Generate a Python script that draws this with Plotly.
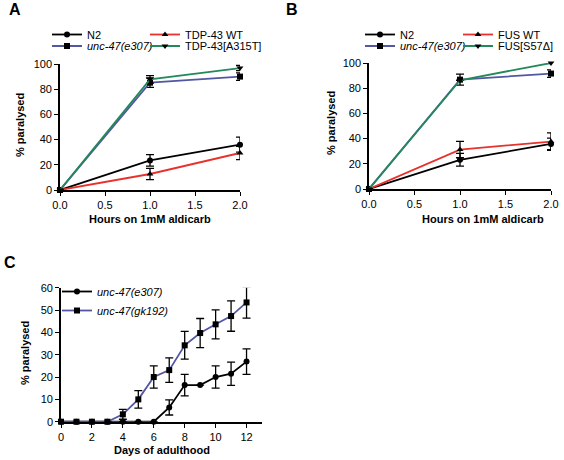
import plotly.graph_objects as go

W, H = 564, 460

# ---------------- data ----------------
hours = [0.0, 1.0, 2.0]

a_n2 = [0, 23.5, 36.0]
a_n2_err = [0, 4.6, 6.0]
a_unc = [0, 85.2, 90.0]
a_unc_err = [0, 3.7, 3.0]
a_tdp_wt = [0, 12.7, 29.4]
a_tdp_wt_err = [0, 4.4, 5.3]
a_tdp_mut = [0, 87.8, 96.8]
a_tdp_mut_err = [0, 3.0, 2.0]

b_n2 = [0, 23.2, 35.8]
b_n2_err = [0, 5.0, 4.5]
b_unc = [0, 86.8, 91.6]
b_unc_err = [0, 4.4, 3.0]
b_fus_wt = [0, 31.3, 37.6]
b_fus_wt_err = [0, 6.5, 7.0]
b_fus_mut = [0, 86.3, 100.0]
b_fus_mut_err = [0, 0, 0]

days = [0, 1, 2, 3, 4, 5, 6, 7, 8, 9, 10, 11, 12]
c_e307 = [0, 0, 0, 0, 0, 0, 0, 6.4, 16.4, 16.4, 20.0, 21.5, 26.9]
c_e307_err = [0, 0, 0, 0, 0, 0, 0, 3.4, 4.8, 0, 5.0, 5.2, 5.7]
c_gk192 = [0, 0, 0, 0, 3.3, 10.0, 20.0, 23.1, 34.2, 39.7, 43.6, 47.3, 53.4]
c_gk192_err = [0, 0, 0, 0, 2.2, 3.9, 5.0, 5.5, 6.2, 6.5, 6.5, 6.8, 7.0]

hour_ticks = [0.0, 0.5, 1.0, 1.5, 2.0]
pct_ticks = [0, 20, 40, 60, 80, 100]
day_ticks = [0, 2, 4, 6, 8, 10, 12]
c_pct_ticks = [0, 10, 20, 30, 40, 50, 60]

BLACK = "#000000"
BLUE = "#5357a3"
RED = "#e8312b"
GREEN = "#23885a"
FONT = "Liberation Sans, Arial, sans-serif"

fig = go.Figure()


def add(x, y, err, name, color, symbol, xa, ya, legend):
    fig.add_trace(go.Scatter(
        x=x, y=y, name=name, mode="lines+markers", showlegend=True,
        line=dict(color=color, width=1.8),
        marker=dict(color=BLACK, symbol=symbol, size=6),
        error_y=dict(type="data", array=err, visible=True, color=BLACK,
                     thickness=1.3, width=4),
        xaxis=xa, yaxis=ya, legend=legend, cliponaxis=False,
    ))


# Panel A
add(hours, a_n2, a_n2_err, "N2", BLACK, "circle", "x", "y", "legend")
add(hours, a_unc, a_unc_err, "<i>unc-47(e307)</i>", BLUE, "square", "x", "y", "legend2")
add(hours, a_tdp_wt, a_tdp_wt_err, "TDP-43 WT", RED, "triangle-up", "x", "y", "legend3")
add(hours, a_tdp_mut, a_tdp_mut_err, "TDP-43[A315T]", GREEN, "triangle-down", "x", "y", "legend4")

# Panel B
add(hours, b_n2, b_n2_err, "N2", BLACK, "circle", "x2", "y2", "legend5")
add(hours, b_unc, b_unc_err, "<i>unc-47(e307)</i>", BLUE, "square", "x2", "y2", "legend6")
add(hours, b_fus_wt, b_fus_wt_err, "FUS WT", RED, "triangle-up", "x2", "y2", "legend7")
add(hours, b_fus_mut, b_fus_mut_err, "FUS[S57Δ]", GREEN, "triangle-down", "x2", "y2", "legend8")

# Panel C
add(days, c_e307, c_e307_err, "<i>unc-47(e307)</i>", BLACK, "circle", "x3", "y3", "legend9")
add(days, c_gk192, c_gk192_err, "<i>unc-47(gk192)</i>", BLUE, "square", "x3", "y3", "legend9")


def px(v):
    return v / W


def py(v):
    return 1 - v / H


axis_common = dict(
    showline=True, linecolor=BLACK, linewidth=1.6, ticks="outside",
    ticklen=4, tickwidth=1.4, tickcolor=BLACK, showgrid=False, zeroline=False,
    tickfont=dict(family=FONT, size=11, color=BLACK), automargin=False,
)

layout = dict(
    width=W, height=H, margin=dict(l=0, r=0, t=0, b=0, autoexpand=False),
    plot_bgcolor="white", paper_bgcolor="white", showlegend=True,
    font=dict(family=FONT, size=11, color=BLACK),
    xaxis=dict(domain=[px(60), px(240)], range=[0, 2], tickvals=hour_ticks,
               tickformat=".1f", anchor="y", **axis_common),
    yaxis=dict(domain=[py(190), py(64)], range=[0, 100], tickvals=pct_ticks,
               anchor="x", **axis_common),
    xaxis2=dict(domain=[px(369), px(551)], range=[0, 2], tickvals=hour_ticks,
                tickformat=".1f", anchor="y2", **axis_common),
    yaxis2=dict(domain=[py(189), py(63)], range=[0, 100], tickvals=pct_ticks,
                anchor="x2", **axis_common),
    xaxis3=dict(domain=[px(61), px(262)], range=[0, 13], tickvals=day_ticks,
                anchor="y3", **axis_common),
    yaxis3=dict(domain=[py(421.7), py(287.7)], range=[0, 60], tickvals=c_pct_ticks,
                anchor="x3", **axis_common),
)

leg_common = dict(bgcolor="rgba(0,0,0,0)", font=dict(family=FONT, size=11, color=BLACK),
                  xanchor="left", yanchor="top", itemwidth=30, tracegroupgap=0,
                  orientation="v")
ROW1, ROW2 = 20, 31.5
layout["legend"] = dict(x=px(47), y=py(ROW1), **leg_common)
layout["legend2"] = dict(x=px(47), y=py(ROW2), **leg_common)
layout["legend3"] = dict(x=px(145), y=py(ROW1), **leg_common)
layout["legend4"] = dict(x=px(145), y=py(ROW2), **leg_common)
layout["legend5"] = dict(x=px(360), y=py(ROW1), **leg_common)
layout["legend6"] = dict(x=px(360), y=py(ROW2), **leg_common)
layout["legend7"] = dict(x=px(458), y=py(ROW1), **leg_common)
layout["legend8"] = dict(x=px(458), y=py(ROW2), **leg_common)
layout["legend9"] = dict(x=px(57), y=py(277), **leg_common)

fig.update_layout(**layout)

ann = []
bold = dict(family=FONT, size=11, color=BLACK)
ann.append(dict(text="<b>A</b>", x=px(7), y=py(10), xanchor="left", yanchor="middle",
                font=dict(family=FONT, size=16, color=BLACK)))
ann.append(dict(text="<b>B</b>", x=px(284), y=py(10), xanchor="left", yanchor="middle",
                font=dict(family=FONT, size=16, color=BLACK)))
ann.append(dict(text="<b>C</b>", x=px(2), y=py(262), xanchor="left", yanchor="middle",
                font=dict(family=FONT, size=16, color=BLACK)))
ann.append(dict(text="<b>% paralysed</b>", x=px(20), y=py(125), textangle=-90,
                xanchor="center", yanchor="middle", font=bold))
ann.append(dict(text="<b>% paralysed</b>", x=px(331), y=py(123), textangle=-90,
                xanchor="center", yanchor="middle", font=bold))
ann.append(dict(text="<b>% paralysed</b>", x=px(25), y=py(353), textangle=-90,
                xanchor="center", yanchor="middle", font=bold))
ann.append(dict(text="<b>Hours on 1mM aldicarb</b>", x=px(150), y=py(219),
                xanchor="center", yanchor="middle", font=bold))
ann.append(dict(text="<b>Hours on 1mM aldicarb</b>", x=px(483), y=py(219),
                xanchor="center", yanchor="middle", font=bold))
ann.append(dict(text="<b>Days of adulthood</b>", x=px(162), y=py(450),
                xanchor="center", yanchor="middle", font=bold))
for a in ann:
    a.update(xref="paper", yref="paper", showarrow=False)
fig.update_layout(annotations=ann)

fig.write_html("out.html", config={"displayModeBar": False},
               post_script="document.body.style.margin='0';document.body.style.padding='0';")
